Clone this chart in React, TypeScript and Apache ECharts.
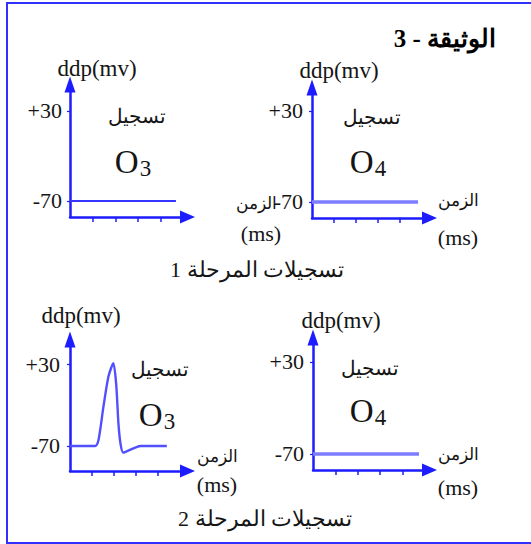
import React, { useEffect, useRef } from "react";
import * as echarts from "echarts";

// Ticks on the time axis and the two marked potentials on the ddp axis
const timeTicks = [1, 2, 3, 4];
const potentialMarks = [-70, 30];

// Phase 1 recordings (time in tick units, ddp in mV)
const o3Phase1Time = [0, 4.67];
const o3Phase1Ddp = [-70, -70];
const o4Phase1Time = [0, 4.82];
const o4Phase1Ddp = [-70, -70];

// Phase 2 recordings: O3 shows an action potential, O4 stays at rest
const o3Phase2Time = [0, 1.14, 1.3, 1.52, 1.75, 1.97, 2.1, 2.2, 2.3, 2.42, 2.7, 3.05, 3.2, 4.4];
const o3Phase2Ddp = [-70, -70, -62, -22, 15, 31, 5, -42, -68, -78, -75, -71, -70, -70];
const o4Phase2Time = [0, 4.75];
const o4Phase2Ddp = [-70, -70];

const SERIF = "Liberation Serif, DejaVu Serif, serif";
const AXIS = "#1c1cff";
const INK = "#151515";

type Panel = {
  left: number;
  top: number;
  width: number;
  height: number;
  yMin: number;
  yMax: number;
  xMax: number;
  time: number[];
  ddp: number[];
  color: string;
  lineWidth: number;
  smooth: number | boolean;
  labelMargin: number;
};

const panels: Panel[] = [
  { left: 70, top: 84.5, width: 117.5, height: 132.5, yMin: -87.8, yMax: 59.4, xMax: 5.18,
    time: o3Phase1Time, ddp: o3Phase1Ddp, color: "#3535ff", lineWidth: 2.2, smooth: false, labelMargin: 8 },
  { left: 312, top: 87.5, width: 117.5, height: 130.5, yMin: -87.6, yMax: 55.8, xMax: 5.34,
    time: o4Phase1Time, ddp: o4Phase1Ddp, color: "#7c7cff", lineWidth: 3.5, smooth: false, labelMargin: 9 },
  { left: 70, top: 339.5, width: 117.5, height: 131.5, yMin: -100.5, yMax: 59.9, xMax: 5.34,
    time: o3Phase2Time, ddp: o3Phase2Ddp, color: "#5050ff", lineWidth: 2.4, smooth: 0.25, labelMargin: 10 },
  { left: 313, top: 337.5, width: 116.5, height: 132.5, yMin: -87.4, yMax: 56.6, xMax: 5.22,
    time: o4Phase2Time, ddp: o4Phase2Ddp, color: "#7c7cff", lineWidth: 3.5, smooth: false, labelMargin: 9 },
];

const text = (x: number, y: number, t: string, fontSize = 22, extra: any = {}) => ({
  type: "text",
  x,
  y,
  silent: true,
  style: {
    text: t,
    fill: INK,
    fontSize,
    fontFamily: SERIF,
    align: "center",
    verticalAlign: "middle",
    ...extra,
  },
});

// Cell name with a lowered subscript digit, e.g. O₃
const cellName = (x: number, y: number, digit: string) => ({
  type: "text",
  x,
  y,
  silent: true,
  style: {
    text: `{o|O}{s|${digit}}`,
    align: "center",
    verticalAlign: "middle",
    rich: {
      o: { fontSize: 33, fontFamily: SERIF, fill: INK },
      s: { fontSize: 23, fontFamily: SERIF, fill: INK, padding: [12, 0, 0, 1] },
    },
  },
});

export default function App() {
  const ref = useRef<HTMLDivElement>(null);

  useEffect(() => {
    if (!ref.current) return;
    const chart = echarts.init(ref.current, undefined, { renderer: "svg" });

    const option: any = {
      animation: false,
      backgroundColor: "#ffffff",
      textStyle: { fontFamily: SERIF },
      grid: panels.map((p) => ({
        left: p.left,
        top: p.top,
        width: p.width,
        height: p.height,
        containLabel: false,
        outerBoundsMode: "none",
      })),
      xAxis: panels.map((p, i) => ({
        gridIndex: i,
        type: "value",
        min: 0,
        max: p.xMax,
        axisLine: {
          show: true,
          onZero: false,
          symbol: ["none", "triangle"],
          symbolSize: [13, 15],
          lineStyle: { color: AXIS, width: 2.5 },
        },
        axisTick: {
          show: true,
          customValues: timeTicks,
          length: 5,
          lineStyle: { color: AXIS, width: 1.5 },
        },
        axisLabel: { show: false },
        splitLine: { show: false },
      })),
      yAxis: panels.map((p, i) => ({
        gridIndex: i,
        type: "value",
        min: p.yMin,
        max: p.yMax,
        axisLine: {
          show: true,
          onZero: false,
          symbol: ["none", "triangle"],
          symbolSize: [11, 16],
          lineStyle: { color: AXIS, width: 2.5 },
        },
        axisTick: {
          show: true,
          customValues: potentialMarks,
          length: 3,
          lineStyle: { color: AXIS, width: 1.2 },
        },
        axisLabel: {
          show: true,
          customValues: potentialMarks,
          formatter: (v: number) => (v > 0 ? `+${v}` : `${v}`),
          margin: p.labelMargin,
          fontSize: 22,
          fontFamily: SERIF,
          color: INK,
        },
        splitLine: { show: false },
      })),
      series: panels.map((p, i) => ({
        type: "line",
        xAxisIndex: i,
        yAxisIndex: i,
        data: p.time.map((t, k) => [t, p.ddp[k]]),
        showSymbol: false,
        smooth: p.smooth,
        lineStyle: { color: p.color, width: p.lineWidth },
        silent: true,
      })),
      graphic: [
        {
          type: "rect",
          silent: true,
          shape: { x: 7, y: 3, width: 530, height: 540 },
          style: { fill: "none", stroke: "#3030ff", lineWidth: 2 },
        },
        text(445, 38, "الوثيقة - 3", 25, { fontWeight: "bold", fill: "#000" }),

        // phase 1, O3
        text(97, 68, "ddp(mv)", 23),
        text(137, 116, "تسجيل", 20),
        cellName(133, 162, "3"),
        text(256, 203, "الزمن", 17),
        text(261, 233, "(ms)"),

        // phase 1, O4
        text(339, 70, "ddp(mv)", 23),
        text(372, 117, "تسجيل", 20),
        cellName(368, 162, "4"),
        text(458, 200, "الزمن", 17),
        text(458, 237, "(ms)"),

        text(257, 269, "تسجيلات المرحلة 1", 22),

        // phase 2, O3
        text(81, 315, "ddp(mv)", 23),
        text(160, 369, "تسجيل", 20),
        cellName(157, 415, "3"),
        text(217, 456, "الزمن", 17),
        text(217, 484, "(ms)"),

        // phase 2, O4
        text(341, 320, "ddp(mv)", 23),
        text(370, 368, "تسجيل", 20),
        cellName(368, 411, "4"),
        text(458, 454, "الزمن", 17),
        text(458, 487, "(ms)"),

        text(265, 518, "تسجيلات المرحلة 2", 22),
      ],
    };

    chart.setOption(option);
    return () => chart.dispose();
  }, []);

  return (
    <div
      ref={ref}
      style={{ position: "absolute", left: 0, top: 0, width: 531, height: 544, background: "#fff" }}
    />
  );
}
